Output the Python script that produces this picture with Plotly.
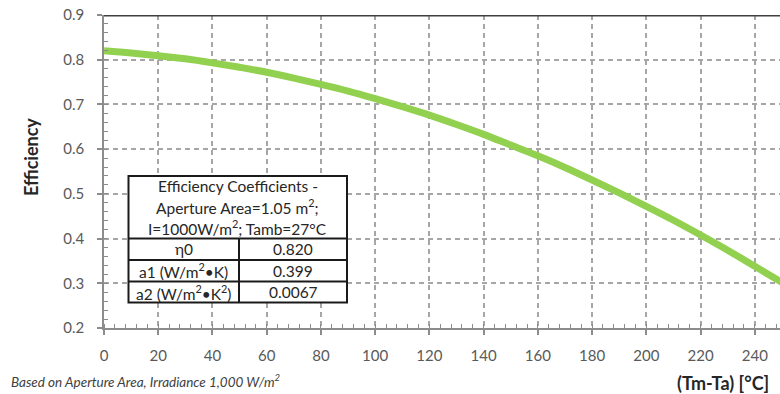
import plotly.graph_objects as go

# Collector efficiency curve, temperature difference (Tm-Ta) in °C
temp_diff = [0, 10, 20, 30, 40, 50, 60, 70, 80, 90, 100, 110, 120,
             130, 140, 150, 160, 170, 180, 190, 200, 210, 220, 230, 240, 250]
efficiency = [0.820, 0.815, 0.809, 0.802, 0.793, 0.783, 0.772, 0.759, 0.745,
              0.730, 0.713, 0.695, 0.676, 0.655, 0.633, 0.609, 0.585, 0.559,
              0.531, 0.502, 0.472, 0.441, 0.408, 0.374, 0.338, 0.302]

x_ticks = [0, 20, 40, 60, 80, 100, 120, 140, 160, 180, 200, 220, 240]
y_ticks = [0.2, 0.3, 0.4, 0.5, 0.6, 0.7, 0.8, 0.9]

table_header = ["Efficiency Coefficients -",
                "Aperture Area=1.05 m<sup>2</sup>;",
                "I=1000W/m<sup>2</sup>; Tamb=27°C"]
table_names = ["η0", "a1 (W/m<sup>2</sup>•K)", "a2 (W/m<sup>2</sup>•K<sup>2</sup>)"]
table_values = ["0.820", "0.399", "0.0067"]

W, H = 780, 394
L, R, T, B = 104, 0, 15, 66
PW, PH = W - L - R, H - T - B

FONT = "Lato"
GRID = "#a6a6a6"
AXIS = "#8c8c8c"
TEXT = "#595959"


def px(xp):
    return (xp - L) / PW


def py(yp):
    return (H - B - yp) / PH


fig = go.Figure()
fig.add_trace(go.Scatter(
    x=temp_diff, y=efficiency, mode="lines",
    line=dict(color="#92D050", width=7, shape="spline"),
    hoverinfo="skip", showlegend=False,
))

shapes = []
annotations = []

# top border line at 0.9
shapes.append(dict(type="line", xref="paper", yref="y", x0=0, x1=1, y0=0.9, y1=0.9,
                   line=dict(color="#404040", width=3), layer="above"))

# coefficient table box
tx0, tx1, tmid = 128.5, 347, 239
ty = [176, 238.5, 260, 281.5, 302.5]
shapes.append(dict(type="rect", xref="paper", yref="paper",
                   x0=px(tx0), x1=px(tx1), y0=py(ty[-1]), y1=py(ty[0]),
                   fillcolor="white", line=dict(color="#1a1a1a", width=2), layer="above"))
for yy in ty[1:-1]:
    shapes.append(dict(type="line", xref="paper", yref="paper",
                       x0=px(tx0), x1=px(tx1), y0=py(yy), y1=py(yy),
                       line=dict(color="#1a1a1a", width=2), layer="above"))
shapes.append(dict(type="line", xref="paper", yref="paper",
                   x0=px(tmid), x1=px(tmid), y0=py(ty[-1]), y1=py(ty[1]),
                   line=dict(color="#1a1a1a", width=2), layer="above"))

cell_font = dict(family=FONT, size=15.5, color="#262626")
header_line_y = [186, 206.5, 227]
for text, yy in zip(table_header, header_line_y):
    annotations.append(dict(text=text, xref="paper", yref="paper",
                            x=px((tx0 + tx1) / 2), y=py(yy), showarrow=False,
                            xanchor="center", yanchor="middle", font=cell_font))
for i, (name, val) in enumerate(zip(table_names, table_values)):
    yc = (ty[i + 1] + ty[i + 2]) / 2
    annotations.append(dict(text=name, xref="paper", yref="paper",
                            x=px((tx0 + tmid) / 2), y=py(yc), showarrow=False,
                            xanchor="center", yanchor="middle", font=cell_font))
    annotations.append(dict(text=val, xref="paper", yref="paper",
                            x=px((tmid + tx1) / 2), y=py(yc), showarrow=False,
                            xanchor="center", yanchor="middle", font=cell_font))

# axis titles and footnote
annotations.append(dict(text="<b>Efficiency</b>", xref="paper", yref="paper",
                        x=px(31), y=py(157), textangle=-90, showarrow=False,
                        xanchor="center", yanchor="middle",
                        font=dict(family=FONT, size=18, color="#262626")))
annotations.append(dict(text="<b>(Tm-Ta) [°C]</b>", xref="paper", yref="paper",
                        x=px(771), y=py(383), showarrow=False,
                        xanchor="right", yanchor="middle",
                        font=dict(family=FONT, size=18, color="#262626")))
annotations.append(dict(text="<i>Based on Aperture Area, Irradiance 1,000 W/m<sup>2</sup></i>",
                        xref="paper", yref="paper",
                        x=px(9), y=py(381), showarrow=False,
                        xanchor="left", yanchor="middle",
                        font=dict(family=FONT, size=13.5, color="#404040")))

fig.update_layout(
    width=W, height=H,
    margin=dict(l=L, r=R, t=T, b=B, pad=0),
    paper_bgcolor="white", plot_bgcolor="white",
    shapes=shapes, annotations=annotations,
    xaxis=dict(
        range=[0, 249.3], tickvals=x_ticks, ticktext=[str(v) for v in x_ticks],
        showgrid=True, gridcolor=GRID, gridwidth=1.5, griddash="5px,4px",
        showline=True, linecolor=AXIS, linewidth=1.5,
        ticks="outside", ticklen=5, tickcolor=AXIS, tickwidth=1.5,
        minor=dict(dtick=4, tick0=0, ticks="inside", ticklen=4,
                   tickcolor=AXIS, tickwidth=1.2, showgrid=False),
        tickfont=dict(family=FONT, size=15, color=TEXT),
        ticklabelstandoff=8,
        zeroline=False, fixedrange=True,
    ),
    yaxis=dict(
        range=[0.2, 0.9], tickvals=y_ticks, ticktext=[f"{v:.1f}" for v in y_ticks],
        showgrid=True, gridcolor=GRID, gridwidth=1.5, griddash="5px,4px",
        showline=True, linecolor=AXIS, linewidth=1.5,
        ticks="outside", ticklen=5, tickcolor=AXIS, tickwidth=1.5,
        minor=dict(dtick=0.02, tick0=0.2, ticks="inside", ticklen=4,
                   tickcolor=AXIS, tickwidth=1.2, showgrid=False),
        tickfont=dict(family=FONT, size=15, color=TEXT),
        ticklabelstandoff=10,
        zeroline=False, fixedrange=True,
    ),
)

fig.write_html("out.html", config={"displayModeBar": False})
